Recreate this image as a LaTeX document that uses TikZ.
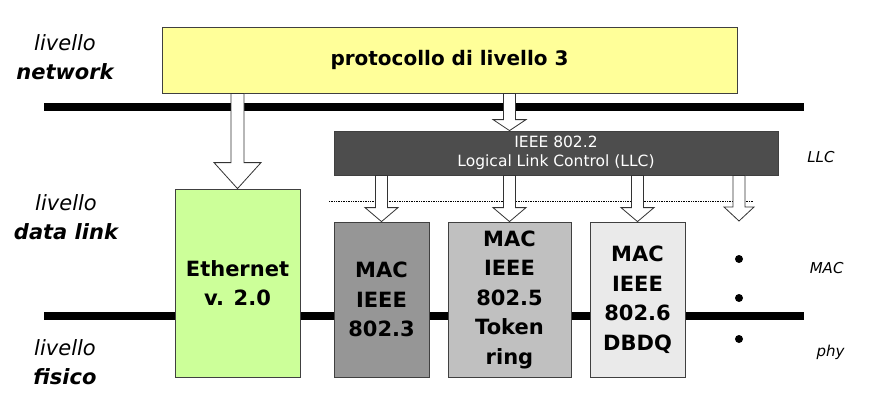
\documentclass[tikz,border=0pt]{standalone}
\usepackage{fontspec}
\setmainfont{DejaVu Sans}
\usetikzlibrary{calc}
\definecolor{netyellow}{HTML}{FFFF99}
\definecolor{ethgreen}{HTML}{CCFF99}
\definecolor{llcgray}{HTML}{4D4D4D}
\definecolor{macdark}{HTML}{969696}
\definecolor{macmid}{HTML}{C0C0C0}
\definecolor{maclight}{HTML}{EAEAEA}
\begin{document}
\begin{tikzpicture}[x=1pt,y=-1pt,
    layerbox/.style={draw=black!75, line width=0.8pt, inner sep=0pt, align=center,
      font=\fontsize{21}{29.5}\selectfont\bfseries},
    bus/.style={line width=8pt},
    side/.style={align=center, font=\fontsize{21}{29}\selectfont\itshape},
    sublayer/.style={anchor=east, font=\fontsize{15}{17}\selectfont\itshape},
    blockarrow/.style n args={3}{draw=black!80, fill=white, line width=0.8pt,
      to path={let \p1=(\tikztostart), \p2=(\tikztotarget) in
        (\x1-#1,\y1) -- (\x1-#1,\y2+#3) -- (\x1-#2,\y2+#3) -- (\x2,\y2)
        -- (\x1+#2,\y2+#3) -- (\x1+#1,\y2+#3) -- (\x1+#1,\y1) -- cycle}}]
  \useasboundingbox (0,0) rectangle (869,415);
  \coordinate (topbus west) at (44,106.5);
  \coordinate (topbus east) at (804,106.5);
  \coordinate (phybus west) at (44,316);
  \coordinate (phybus east) at (804,316);
  \coordinate (split west) at (329,201);
  \coordinate (split east) at (753,201);
  \draw[bus] (topbus west) -- (topbus east);
  \draw[bus] (phybus west) -- (phybus east);
  \draw[densely dotted, line width=0.7pt] (split west) -- (split east);

  \node[layerbox, fill=netyellow, minimum width=575pt, minimum height=66pt,
    font=\fontsize{20}{24}\selectfont\bfseries] (net) at (449.5,60) {protocollo di livello 3};
  \node[layerbox, fill=llcgray, text=white, minimum width=444pt, minimum height=44pt,
    font=\fontsize{15.5}{19}\selectfont] (llc) at (556,153) {IEEE 802.2\\Logical Link Control (LLC)};
  \node[layerbox, fill=ethgreen, minimum width=125pt, minimum height=188pt] (eth) at (237.5,283) {Ethernet\\v. 2.0};
  \node[layerbox, fill=macdark, minimum width=95pt, minimum height=155pt] (mac3) at (381.5,299.5) {MAC\\IEEE\\802.3};
  \node[layerbox, fill=macmid, minimum width=123pt, minimum height=155pt] (mac5) at (509.5,299.5) {MAC\\IEEE\\802.5\\Token\\ring};
  \node[layerbox, fill=maclight, minimum width=95pt, minimum height=155pt] (mac6) at (637.5,299.5) {MAC\\IEEE\\802.6\\DBDQ};
  \coordinate (more) at (739,221);

  \begin{scope}
    \draw[blockarrow={6.5pt}{23.5pt}{26pt}] (net.south -| eth.north) to (eth.north);
    \draw[blockarrow={6pt}{16.5pt}{11pt}] (net.south -| mac5.north) to (llc.north -| mac5.north);
    \foreach \m in {mac3,mac5,mac6}
      \draw[blockarrow={6pt}{16.5pt}{14pt}] (llc.south -| \m.north) to (\m.north);
    \draw[blockarrow={6pt}{15pt}{14pt}] (llc.south -| more) to (more);
  \end{scope}
  \foreach \y in {259,298,339}
    \fill (739,\y) circle (4pt);

  \node[side] (network) at (65,57) {livello\\\bfseries network};
  \node[side] (datalink) at (66,217) {livello\\\bfseries data link};
  \node[side] (fisico) at (65,362) {livello\\\bfseries fisico};
  \node[sublayer] (llclabel) at (838,157) {LLC};
  \node[sublayer] (maclabel) at (847,268) {MAC};
  \node[sublayer] (phylabel) at (848,352) {phy};
\end{tikzpicture}
\end{document}
